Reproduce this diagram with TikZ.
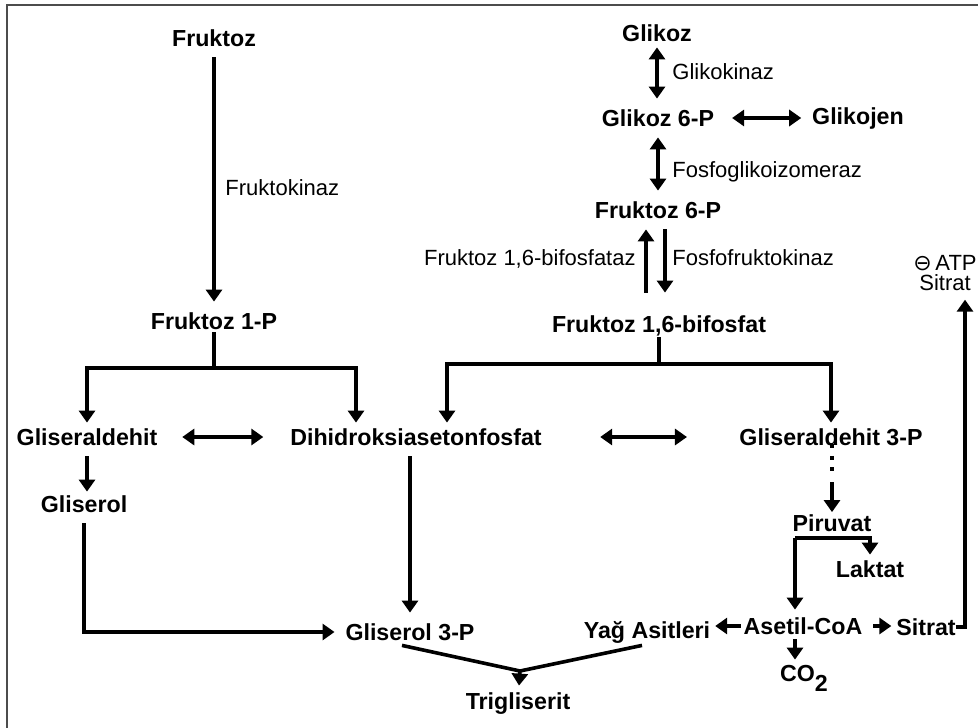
\documentclass[tikz,border=0pt]{standalone}
\usepackage{fontspec}
\setmainfont{Liberation Sans}
\newfontfamily\symfont{DejaVu Sans}
\usetikzlibrary{arrows.meta}

\begin{document}
\begin{tikzpicture}[
    x=0.5pt, y=-0.5pt,
    met/.style={font=\fontsize{11.6}{14}\selectfont\bfseries, inner sep=0pt, outer sep=5.5pt, text height=8.4pt, text depth=0pt},
    enz/.style={font=\fontsize{11}{13}\selectfont, inner sep=0pt, text height=7.9pt, text depth=0pt},
    inhib/.style={font=\fontsize{11}{10}\selectfont, align=center, inner sep=0pt, outer sep=4.5pt},
    line/.style={line width=1.8pt},
    arrow/.style={line width=1.8pt, -{Triangle[width=8pt,length=6pt]}},
    dblarrow/.style={line width=1.8pt, {Triangle[width=8pt,length=6pt]}-{Triangle[width=8pt,length=6pt]}},
    dotline/.style={line width=1.8pt, dash pattern=on 2pt off 3.75pt},
    frame/.style={draw=black!70, line width=1.2pt}
]

% Canvas and frame
\useasboundingbox (0,0) rectangle (978,727);
\draw[frame] (7,5) rectangle (1010,760);

% Fruktoz
\node[met] (fruk) at (214,38) {Fruktoz};
\node[enz, anchor=west] (frukkin) at (225,188) {Fruktokinaz};
\node[met] (fruk1p) at (214,321) {Fruktoz 1-P};

% Glikoz
\node[met] (glikoz) at (657,33) {Glikoz};
\node[enz, anchor=west] (glikin) at (672,72) {Glikokinaz};
\node[met] (g6p) at (658,118) {Glikoz 6-P};
\node[met] (glikojen) at (858,116) {Glikojen};
\node[enz, anchor=west] (pgi) at (672,170) {Fosfoglikoizomeraz};
\node[met] (f6p) at (658,210) {Fruktoz 6-P};
\node[enz, anchor=east] (fbpaz) at (636,258) {Fruktoz 1,6-bifosfataz};
\node[enz, anchor=west] (pfk) at (672,258) {Fosfofruktokinaz};
\node[met] (f16bp) at (659,324) {Fruktoz 1,6-bifosfat};

% Triozlar
\node[met] (glisald) at (87,437) {Gliseraldehit};
\node[met] (dhap) at (416,437) {Dihidroksiasetonfosfat};
\node[met] (g3p) at (831,437) {Gliseraldehit 3-P};

% Gliserol
\node[met] (gliserol) at (84,504) {Gliserol};
\node[met] (gol3p) at (410,632) {Gliserol 3-P};

% Trigliserit
\node[met] (trig) at (518,701) {Trigliserit};

% Piruvat
\node[met] (piruvat) at (832,523) {Piruvat};
\node[met] (laktat) at (870,569) {Laktat};

% Asetil-CoA
\node[met] (asetil) at (803,626) {Asetil-CoA};
\node[met] (yag) at (647,630) {Yağ Asitleri};
\node[met] (sitrat) at (926,627) {Sitrat};
\node[met] (co2) at (804,673) {CO\raisebox{-5pt}{2}};

% Inhibition
\node[inhib] (atp) at (945,273) {{\symfont ⊖}\,ATP\\Sitrat};

% Branch points
\coordinate (split1) at (214,368);
\coordinate (split2) at (659,364);
\coordinate (pmid) at (832,476);
\coordinate (pbranch) at (795,538);
\coordinate (join) at (520,671);

% Arrows - Fruktoz
\draw[arrow] (fruk) -- (fruk1p);
\draw[line, shorten >=-4pt] (split1) -- (fruk1p);
\draw[arrow, shorten >=-2.5pt] (split1) -| (glisald);
\draw[arrow, shorten >=-2.5pt] (split1) -| ([xshift=-30pt]dhap.north);

% Arrows - Glikoz
\draw[dblarrow, shorten <=-2.5pt] (glikoz.south) -- (glikoz.south |- g6p.north);
\draw[dblarrow, shorten <=3.5pt] (g6p.east) -- (g6p.east -| glikojen.west);
\draw[dblarrow] (g6p.south) -- (g6p.south |- f6p.north);
\draw[arrow, shorten <=6pt] ([xshift=-6.5pt]f16bp.north) -- ([xshift=-6pt]f6p.south);
\draw[arrow, shorten >=6pt] ([xshift=3.5pt]f6p.south) -- ([xshift=3pt]f16bp.north);

% Arrows - Fruktoz 1,6-bifosfat
\draw[line, shorten >=-3pt] (split2) -- (f16bp);
\draw[arrow, shorten >=-2.5pt] (split2) -| ([xshift=15.5pt]dhap.north);
\draw[arrow, shorten >=-2.5pt] (split2) -| (g3p);

% Arrows - triozlar
\draw[dblarrow, shorten <=7pt, shorten >=8pt] (glisald) -- (dhap);
\draw[dblarrow, shorten <=23.75pt, shorten >=20.75pt] (dhap) -- (g3p);
\draw[arrow, shorten >=-3.5pt] (glisald.south) -- (glisald.south |- gliserol.north);
\draw[arrow] (gliserol) |- (gol3p);
\draw[arrow] (dhap.south -| gol3p) -- (gol3p);

% Arrows - trigliserit
\draw[line] ([xshift=-4pt,yshift=3pt]gol3p.south) -- (join);
\draw[line] ([xshift=-2.5pt,yshift=2pt]yag.south) -- (join);
\draw[arrow, shorten >=-2pt] (join) -- (trig);

% Arrows - piruvat
\draw[dotline, shorten <=-6pt] (g3p.south -| pmid) -- (pmid);
\draw[arrow, shorten <=3pt, shorten >=-4.25pt] (pmid) -- (piruvat);
\draw[arrow, shorten >=-2.5pt] (pbranch) -| (laktat);
\draw[arrow, shorten >=-1.5pt] (pbranch) -- (pbranch |- asetil.north);

% Arrows - asetil-CoA
\draw[arrow, shorten <=-4pt, shorten >=-3pt] (asetil.west) -- (asetil.west -| yag.east);
\draw[arrow, shorten >=-3pt] (asetil.east) -- (asetil.east -| sitrat.west);
\draw[arrow, shorten <=-3pt, shorten >=-3pt] (pbranch |- asetil.south) -- (pbranch |- co2.north);
\draw[arrow] ([xshift=-5.5pt]sitrat.east) -| ([xshift=10pt]atp.south);

\end{tikzpicture}
\end{document}
